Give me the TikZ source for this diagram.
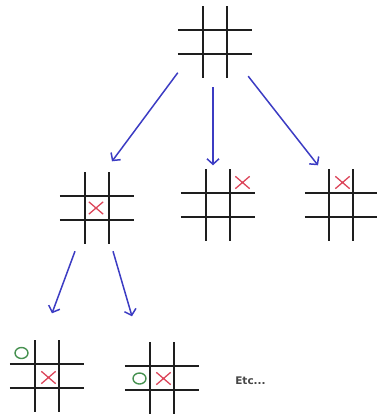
\documentclass[tikz,border=0pt]{standalone}
\usepackage{fontspec}
\newfontfamily\etcfont{DejaVu Sans}
\usetikzlibrary{arrows.meta,shapes.misc,shapes.geometric}
\definecolor{gridc}{RGB}{30,30,30}
\definecolor{arrc}{RGB}{60,60,195}
\definecolor{xred}{RGB}{220,70,90}
\definecolor{ogreen}{RGB}{70,145,80}
\definecolor{etcc}{RGB}{70,70,70}
\newcommand\boardlines[1]{%
  \draw[gridline] ([xshift=-12pt]#1.north) -- ([xshift=-12pt]#1.south)
                  ([xshift=12pt]#1.north) -- ([xshift=12pt]#1.south)
                  ([yshift=12pt]#1.west) -- ([yshift=12pt]#1.east)
                  ([yshift=-12pt]#1.west) -- ([yshift=-12pt]#1.east);}
\begin{document}
\begin{tikzpicture}[x=1pt,y=-1pt,
  board/.style={inner sep=0pt,minimum width=74pt,minimum height=71pt},
  gridline/.style={draw=gridc,line width=2pt},
  move/.style={draw=arrc,line width=1.5pt,-{Straight Barb[length=5.5pt,width=12pt,line width=1.5pt]}},
  xmk/.style={cross out,draw=xred,line width=1.3pt,inner sep=0pt,minimum width=13pt,minimum height=11pt},
  omk/.style={ellipse,draw=ogreen,line width=1.4pt,inner sep=0pt,minimum width=13pt,minimum height=11pt}]
\useasboundingbox (0,0) rectangle (377,416);
% boards
\node[board] (root) at (215,42) {};
\node[board] (g2) at (97,208) {};
\node[board] (g3) at (218,205) {};
\node[board,minimum width=72pt] (g4) at (341,205) {};
\node[board] (g5) at (47,376) {};
\node[board] (g6) at (162,378) {};
\foreach \b in {root,g2,g3,g4,g5,g6} {\boardlines{\b}}
% marks
\node[xmk] (x2) at (96,208) {};
\node[xmk] (x3) at (242.5,182.5) {};
\node[xmk] (x4) at (342.5,182.5) {};
\node[xmk] (x5) at (48.5,377.5) {};
\node[omk] (o5) at (21.5,353) {};
\node[omk] (o6) at (139.5,378.5) {};
\node[xmk] (x6) at (163.5,378.5) {};
% arrows
\draw[move] ([yshift=5pt]root.south west) -- ([xshift=15pt,yshift=11pt]g2.north);
\draw[move] ([xshift=-2pt,yshift=-9.5pt]root.south) -- ([xshift=-5pt,yshift=4pt]g3.north);
\draw[move] ([xshift=-4pt,yshift=1.5pt]root.south east) -- ([xshift=-23pt,yshift=4pt]g4.north);
\draw[move] ([xshift=-22pt,yshift=-7.5pt]g2.south) -- ([xshift=5pt,yshift=27pt]g5.north);
\draw[move] ([xshift=16pt,yshift=-7.5pt]g2.south) -- ([xshift=-30pt,yshift=26pt]g6.north);
% text
\node[text=etcc,font=\etcfont\bfseries\fontsize{10.5}{12}\selectfont,inner sep=0pt] (etc) at (250.5,381) {Etc...};
\end{tikzpicture}
\end{document}
